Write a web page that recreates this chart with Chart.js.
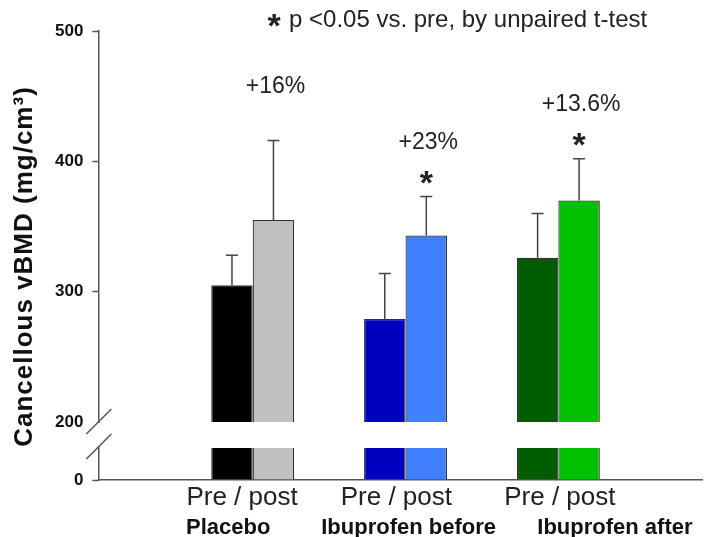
<!DOCTYPE html>
<html>
<head>
<meta charset="utf-8">
<script src="https://cdn.jsdelivr.net/npm/chart.js@4.4.1/dist/chart.umd.min.js"></script>
<style>
  html, body { margin: 0; padding: 0; background: #fff; }
  #wrap { width: 707px; height: 537px; }
</style>
</head>
<body>
<div id="wrap"><canvas id="chart" width="707" height="537"></canvas></div>
<script>
// Values (mg/cm3)
const groups = ['Placebo', 'Ibuprofen before', 'Ibuprofen after'];
const preValues = [305, 279, 326];
const postValues = [355, 343, 370];
const preErrors = [23, 35, 34];
const postErrors = [61, 30, 32];
const changeLabels = ['+16%', '+23%', '+13.6%'];
const significant = [false, true, true];
const preColors = ['#000000', '#0000c0', '#005c00'];
const postColors = ['#c0c0c0', '#4080ff', '#00c000'];
const upperTicks = [200, 300, 400, 500];
const lowerTicks = [0];

// where the x labels sit (the original places them by hand, not quite centred)
const pairLabelPos = [0.93, 1.94, 3.01];
const groupLabelPos = [0.84, 2.02, 3.37];

const FONT = "'Liberation Sans', Arial, sans-serif";
const AXIS_COLOR = '#555';
const BREAK_GAP = 26; // white gap between the two parts of the broken axis

Chart.defaults.font.family = FONT;
Chart.defaults.color = '#111';

// bars sit at x = 1, 2, 3 on a linear axis
const toPoints = vals => vals.map((v, i) => ({ x: i + 1, y: v }));

// upward-only error bars with caps
const errorBarPlugin = {
    id: 'errorBars',
    afterDatasetsDraw(chart) {
        const ctx = chart.ctx;
        const yScale = chart.scales.y;
        [[0, preValues, preErrors], [1, postValues, postErrors]].forEach(([di, vals, errs]) => {
            chart.getDatasetMeta(di).data.forEach((bar, i) => {
                const top = yScale.getPixelForValue(vals[i] + errs[i]);
                ctx.save();
                ctx.strokeStyle = '#444';
                ctx.lineWidth = 1.5;
                ctx.beginPath();
                ctx.moveTo(bar.x, bar.y);
                ctx.lineTo(bar.x, top);
                ctx.moveTo(bar.x - 6, top);
                ctx.lineTo(bar.x + 6, top);
                ctx.stroke();
                ctx.restore();
            });
        });
    }
};

// axis break, y title, header note, % change and significance stars
const annotationPlugin = {
    id: 'annotations',
    afterDraw(chart) {
        const ctx = chart.ctx;
        const area = chart.chartArea;
        const yUp = chart.scales.y;

        // break in the y axis
        const ax = yUp.right;
        const breakTop = yUp.bottom;
        const breakBottom = yUp.bottom + BREAK_GAP;
        ctx.save();
        ctx.fillStyle = '#fff';
        ctx.fillRect(ax - 3, breakTop + 1, 6, BREAK_GAP - 2);
        ctx.strokeStyle = AXIS_COLOR;
        ctx.lineWidth = 1.5;
        ctx.beginPath();
        [breakTop, breakBottom - 1].forEach(y0 => {
            ctx.moveTo(ax - 12, y0 + 12);
            ctx.lineTo(ax + 13, y0 - 13);
        });
        ctx.stroke();
        ctx.restore();

        // y axis title
        ctx.save();
        ctx.translate(25, (area.top + area.bottom) / 2 + 11);
        ctx.rotate(-Math.PI / 2);
        ctx.font = `bold 26px ${FONT}`;
        ctx.letterSpacing = '1px';
        ctx.fillStyle = '#111';
        ctx.textAlign = 'center';
        ctx.textBaseline = 'middle';
        ctx.fillText('Cancellous vBMD (mg/cm\u00B3)', 0, 0);
        ctx.restore();

        // header note
        ctx.save();
        ctx.fillStyle = '#222';
        ctx.font = `bold 34px ${FONT}`;
        ctx.textAlign = 'center';
        ctx.textBaseline = 'alphabetic';
        ctx.fillText('*', 274, 37);
        ctx.font = `24px ${FONT}`;
        ctx.textAlign = 'left';
        ctx.fillText('p <0.05 vs. pre, by unpaired t-test', 289, 27);
        ctx.restore();

        // labels above the post bars
        ctx.save();
        ctx.fillStyle = '#222';
        ctx.textAlign = 'center';
        chart.getDatasetMeta(1).data.forEach((bar, i) => {
            const cap = yUp.getPixelForValue(postValues[i] + postErrors[i]);
            if (significant[i]) {
                ctx.font = `bold 34px ${FONT}`;
                ctx.textBaseline = 'alphabetic';
                ctx.fillText('*', bar.x, cap - 3);
            }
            ctx.font = `23px ${FONT}`;
            ctx.textBaseline = 'middle';
            ctx.fillText(changeLabels[i], bar.x + 2, cap - 54);
        });
        ctx.restore();
    }
};

const lowerClip = { left: false, right: false, top: -BREAK_GAP, bottom: false };

new Chart(document.getElementById('chart'), {
    type: 'bar',
    data: {
        datasets: [
            { label: 'Pre', data: toPoints(preValues), yAxisID: 'y', stack: 'pre',
              backgroundColor: preColors, borderColor: '#333', borderWidth: 1.2 },
            { label: 'Post', data: toPoints(postValues), yAxisID: 'y', stack: 'post',
              backgroundColor: postColors, borderColor: '#333', borderWidth: 1.2 },
            { label: 'Pre (below break)', data: toPoints(preValues), yAxisID: 'yb', stack: 'pre',
              backgroundColor: preColors, borderColor: '#333', borderWidth: 1.2, clip: lowerClip },
            { label: 'Post (below break)', data: toPoints(postValues), yAxisID: 'yb', stack: 'post',
              backgroundColor: postColors, borderColor: '#333', borderWidth: 1.2, clip: lowerClip }
        ]
    },
    options: {
        responsive: false,
        animation: false,
        layout: { padding: { left: 46, right: 5, top: 31, bottom: -3 } },
        datasets: { bar: { barPercentage: 1, categoryPercentage: 0.543 } },
        plugins: {
            legend: { display: false },
            tooltip: { enabled: false }
        },
        scales: {
            x: {
                type: 'linear',
                position: 'bottom',
                min: -0.01,
                max: 3.94,
                offset: false,
                grid: { display: true, drawOnChartArea: false, drawTicks: false },
                border: { color: AXIS_COLOR, width: 1.5 },
                afterBuildTicks: s => { s.ticks = pairLabelPos.map(v => ({ value: v })); },
                ticks: {
                    autoSkip: false,
                    maxRotation: 0,
                    padding: 5,
                    color: '#222',
                    font: { size: 26, lineHeight: 1.0 },
                    callback: () => 'Pre / post'
                }
            },
            x2: {
                type: 'linear',
                position: 'bottom',
                min: -0.01,
                max: 3.94,
                offset: false,
                grid: { display: false, drawTicks: false },
                border: { display: false },
                afterBuildTicks: s => { s.ticks = groupLabelPos.map(v => ({ value: v })); },
                ticks: {
                    autoSkip: false,
                    maxRotation: 0,
                    padding: 1,
                    color: '#111',
                    font: { size: 22, weight: 'bold', lineHeight: 1.0 },
                    callback: (v, i) => groups[i]
                }
            },
            yb: {
                type: 'linear',
                position: 'left',
                stack: 'v',
                stackWeight: 58,
                min: 0,
                max: 200,
                stacked: false,
                afterBuildTicks: s => { s.ticks = lowerTicks.map(v => ({ value: v })); },
                grid: { drawOnChartArea: false, tickLength: 6, tickWidth: 1.5, color: AXIS_COLOR },
                border: { color: AXIS_COLOR, width: 1.5 },
                ticks: { padding: 9, color: '#111', font: { size: 17, weight: 'bold' } }
            },
            y: {
                type: 'linear',
                position: 'left',
                stack: 'v',
                stackWeight: 391,
                min: 200,
                max: 500,
                stacked: false,
                afterBuildTicks: s => { s.ticks = upperTicks.map(v => ({ value: v })); },
                grid: {
                    drawOnChartArea: false,
                    tickLength: 6,
                    tickWidth: 1.5,
                    color: AXIS_COLOR,
                    tickColor: c => (c.tick && c.tick.value === 200 ? 'rgba(0,0,0,0)' : AXIS_COLOR)
                },
                border: { color: AXIS_COLOR, width: 1.5 },
                ticks: { padding: 9, color: '#111', font: { size: 17, weight: 'bold' } }
            }
        }
    },
    plugins: [errorBarPlugin, annotationPlugin]
});
</script>
</body>
</html>
